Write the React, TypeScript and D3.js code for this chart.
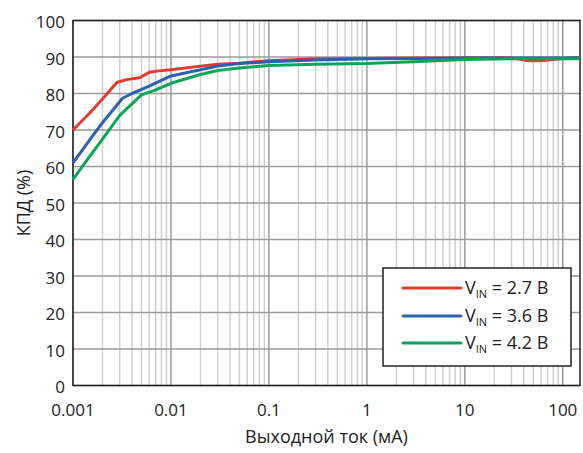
import React from "react";
import * as d3 from "d3";

const redX = [0.001, 0.0015, 0.002, 0.0028, 0.0035, 0.0048, 0.006, 0.0075, 0.01, 0.02, 0.03, 0.05, 0.1, 0.3, 1, 3, 10, 30, 45, 60, 100, 150];
const redY = [70, 74.8, 78.5, 83, 83.8, 84.3, 85.8, 86.2, 86.5, 87.5, 88, 88.3, 89, 89.5, 89.6, 89.7, 89.7, 89.8, 89, 89, 89.6, 89.8];
const blueX = [0.001, 0.0015, 0.002, 0.0032, 0.004, 0.006, 0.01, 0.02, 0.03, 0.05, 0.1, 0.3, 1, 3, 10, 30, 100, 150];
const blueY = [61, 67.5, 72, 78.7, 80, 82, 84.8, 86.5, 87.5, 88.2, 88.7, 89.2, 89.5, 89.6, 89.7, 89.7, 89.7, 89.8];
const greenX = [0.001, 0.0015, 0.002, 0.003, 0.005, 0.007, 0.01, 0.02, 0.03, 0.05, 0.1, 0.3, 1, 3, 10, 30, 100, 150];
const greenY = [56.5, 63, 67.5, 74, 79.6, 81, 82.8, 85.2, 86.3, 87, 87.7, 88, 88.2, 88.7, 89.3, 89.5, 89.5, 89.5];

const seriesNames = ["2.7 В", "3.6 В", "4.2 В"];
const seriesColors = ["#e23b30", "#2c62ad", "#0ba559"];
const xTickValues = [0.001, 0.01, 0.1, 1, 10, 100];
const xTickLabels = ["0.001", "0.01", "0.1", "1", "10", "100"];
const yTickValues = [0, 10, 20, 30, 40, 50, 60, 70, 80, 90, 100];

const W = 583, H = 453;
const L = 73, R = 580, T = 20.5, B = 385.5;
const FONT = "'Open Sans', 'Noto Sans', sans-serif";

export default function App() {
  const x = d3.scaleLog().domain([0.001, 150]).range([L, R]);
  const y = d3.scaleLinear().domain([0, 100]).range([B, T]);
  const line = d3.line<[number, number]>().x(d => x(d[0])).y(d => y(d[1]));
  const series = [
    redX.map((v, i) => [v, redY[i]] as [number, number]),
    blueX.map((v, i) => [v, blueY[i]] as [number, number]),
    greenX.map((v, i) => [v, greenY[i]] as [number, number]),
  ];
  const minor: number[] = [];
  for (let e = -3; e <= 2; e++) {
    for (let m = 2; m <= 9; m++) {
      const v = m * Math.pow(10, e);
      if (v < 150) minor.push(v);
    }
  }
  const legX = 383, legY = 268, legW = 188, legH = 98;
  const rowY = [288, 316, 343];
  return (
    <svg width={W} height={H} style={{ position: "absolute", left: 0, top: 0, background: "#fff" }} fontFamily={FONT}>
      <rect x={0} y={0} width={W} height={H} fill="#fff" />
      {minor.map((v, i) => (
        <line key={"m" + i} x1={x(v)} x2={x(v)} y1={T} y2={B} stroke="#cfcfcf" strokeWidth={1.5} />
      ))}
      {xTickValues.map((v, i) => (
        <line key={"M" + i} x1={x(v)} x2={x(v)} y1={T} y2={B} stroke="#9a9a9a" strokeWidth={1.5} />
      ))}
      {yTickValues.map((v, i) => (
        <line key={"h" + i} x1={L} x2={R} y1={y(v)} y2={y(v)} stroke="#9a9a9a" strokeWidth={1.5} />
      ))}
      <rect x={L} y={T} width={R - L} height={B - T} fill="none" stroke="#222" strokeWidth={1.5} />
      {series.map((s, i) => (
        <path key={"s" + i} d={line(s) || ""} fill="none" stroke={seriesColors[i]} strokeWidth={3} strokeLinejoin="round" />
      ))}
      {yTickValues.map((v, i) => (
        <text key={"yt" + i} x={L - 8} y={y(v) + 2} dy="0.35em" textAnchor="end" fontSize={17} fill="#222">{v}</text>
      ))}
      {xTickValues.map((v, i) => (
        <text key={"xt" + i} x={x(v)} y={416} textAnchor="middle" fontSize={17} fill="#222">{xTickLabels[i]}</text>
      ))}
      <text x={(L + R) / 2} y={443} textAnchor="middle" fontSize={18} fill="#222">Выходной ток (мА)</text>
      <text transform={`translate(30,${(T + B) / 2}) rotate(-90)`} textAnchor="middle" fontSize={18} fill="#222">КПД (%)</text>
      <rect x={legX} y={legY} width={legW} height={legH} fill="#fff" stroke="#222" strokeWidth={1.5} />
      {seriesNames.map((n, i) => (
        <g key={"l" + i}>
          <line x1={403} x2={461} y1={rowY[i]} y2={rowY[i]} stroke={seriesColors[i]} strokeWidth={3} strokeLinecap="round" />
          <text x={465} y={rowY[i]} dy="0.35em" fontSize={18} fill="#222">
            V<tspan fontSize={11} dy="4">IN</tspan><tspan dy="-4"> = {n}</tspan>
          </text>
        </g>
      ))}
    </svg>
  );
}
